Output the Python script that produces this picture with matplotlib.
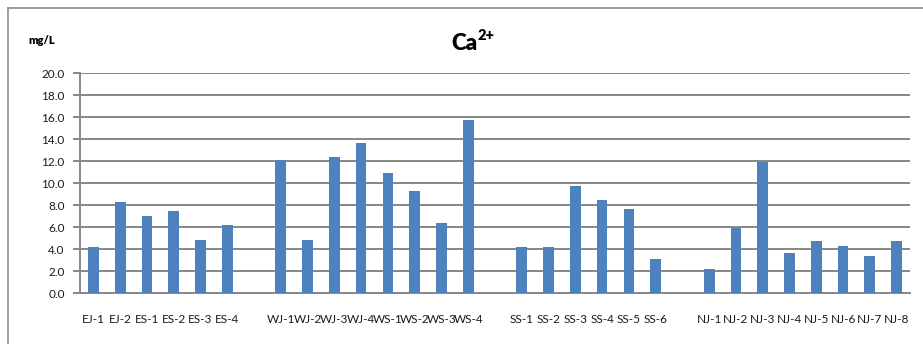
import matplotlib
matplotlib.use("Agg")
import matplotlib.pyplot as plt
from matplotlib.lines import Line2D

# Sampling sites, grouped by region; empty strings leave a blank slot between groups
sites = ["EJ-1", "EJ-2", "ES-1", "ES-2", "ES-3", "ES-4", "",
         "WJ-1", "WJ-2", "WJ-3", "WJ-4", "WS-1", "WS-2", "WS-3", "WS-4", "",
         "SS-1", "SS-2", "SS-3", "SS-4", "SS-5", "SS-6", "",
         "NJ-1", "NJ-2", "NJ-3", "NJ-4", "NJ-5", "NJ-6", "NJ-7", "NJ-8"]

# Ca2+ concentration (mg/L); None for the blank separator slots
ca = [4.2, 8.3, 7.0, 7.5, 4.8, 6.2, None,
      12.1, 4.8, 12.4, 13.6, 10.9, 9.3, 6.4, 15.7, None,
      4.2, 4.2, 9.7, 8.5, 7.6, 3.1, None,
      2.2, 5.9, 11.9, 3.6, 4.7, 4.3, 3.4, 4.7]

y_ticks = [0, 2, 4, 6, 8, 10, 12, 14, 16, 18, 20]

plt.rcParams["font.family"] = ["Lato", "DejaVu Sans"]

W, H = 923, 344
fig = plt.figure(figsize=(W / 100, H / 100), dpi=100)
ax = fig.add_axes([80 / W, 1 - 293 / H, (910 - 80) / W, (293 - 73) / H])

xs = list(range(len(sites)))
bx = [x for x, v in zip(xs, ca) if v is not None]
bv = [v for v in ca if v is not None]
ax.bar(bx, bv, width=0.4, color="#4F81BD", zorder=3)

ax.set_xlim(-0.5, len(sites) - 0.5)
ax.set_ylim(0, 20)
ax.set_yticks(y_ticks)
ax.set_yticklabels([f"{t:.1f}" for t in y_ticks], fontsize=8.5, color="#1a1a1a")
ax.set_xticks(xs)
ax.set_xticklabels(sites, fontsize=8.5, color="#1a1a1a")

grid_c = "#878787"
ax.yaxis.grid(True, color=grid_c, linewidth=1.4, zorder=0)
ax.set_axisbelow(True)
for s in ["top", "right"]:
    ax.spines[s].set_visible(False)
ax.spines["left"].set_color(grid_c)
ax.spines["left"].set_linewidth(1.4)
ax.spines["bottom"].set_color(grid_c)
ax.spines["bottom"].set_linewidth(1.4)
ax.tick_params(axis="y", length=5, width=1.4, color=grid_c, pad=6)
ax.tick_params(axis="x", length=0, pad=15)

# Title: "Ca" with a raised, smaller "2+"
fig.text(478 / W, 1 - 43 / H, "Ca", ha="right", va="center",
         fontsize=16, fontweight="heavy")
fig.text(477 / W, 1 - 35 / H, "2+", ha="left", va="center",
         fontsize=10.5, fontweight="heavy")
fig.text(42 / W, 1 - 40 / H, "mg/L", ha="center", va="center",
         fontsize=8, fontweight="heavy")

# Chart frame (top and left edges)
fig.add_artist(Line2D([8 / W, 1], [1 - 8 / H, 1 - 8 / H], color="#8c8c8c",
                      linewidth=1.2, transform=fig.transFigure))
fig.add_artist(Line2D([8 / W, 8 / W], [0, 1 - 8 / H], color="#8c8c8c",
                      linewidth=1.2, transform=fig.transFigure))

fig.savefig("out.png", dpi=100)
